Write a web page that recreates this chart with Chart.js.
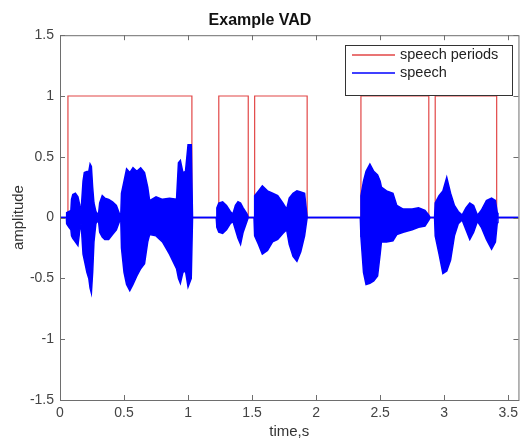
<!DOCTYPE html>
<html>
<head>
<meta charset="utf-8">
<script src="https://cdn.jsdelivr.net/npm/chart.js@4"></script>
<style>
  html, body { margin: 0; padding: 0; background: #fff; }
  #wrap { width: 523px; height: 441px; }
</style>
</head>
<body>
<div id="wrap"><canvas id="vadChart" width="523" height="441"></canvas></div>
<script>
// DATOS
const periodStarts = [0.062, 1.24, 1.52, 2.35, 2.93];
const periodEnds = [1.03, 1.47, 1.93, 2.88, 3.41];
const timeEnd = 3.58;

// envolvente de la señal de voz (tiempo, maximo, minimo)
const speechTime = [
  0, 0.05, 0.052, 0.07, 0.085, 0.09, 0.10, 0.12, 0.14, 0.155, 0.165, 0.18, 0.19,
  0.21, 0.225, 0.235, 0.245, 0.255, 0.265, 0.28, 0.30, 0.31, 0.33, 0.35, 0.38,
  0.41, 0.44, 0.465, 0.475, 0.48, 0.50, 0.52, 0.545, 0.57, 0.60, 0.63, 0.66,
  0.685, 0.70, 0.75, 0.80, 0.855, 0.91, 0.925, 0.94, 0.96, 0.98, 1.00, 1.025, 1.035,
  1.22, 1.225, 1.24, 1.27, 1.30, 1.33, 1.35, 1.37, 1.39, 1.41, 1.43, 1.46, 1.47,
  1.515, 1.52, 1.55, 1.58, 1.62, 1.66, 1.70, 1.74, 1.77, 1.79, 1.82, 1.85, 1.88, 1.91, 1.93,
  2.345, 2.35, 2.37, 2.39, 2.42, 2.45, 2.48, 2.50, 2.51, 2.55, 2.60, 2.63, 2.68,
  2.75, 2.80, 2.85, 2.88, 2.89,
  2.925, 2.93, 2.96, 2.99, 3.02, 3.05, 3.08, 3.11, 3.14, 3.17, 3.20, 3.23, 3.26,
  3.29, 3.33, 3.37, 3.40, 3.415, 3.42, 3.58
];
const speechUpper = [
  0, 0, 0.04, 0.05, 0.06, 0.15, 0.19, 0.20, 0.17, 0.10, 0.06, 0.30, 0.37,
  0.38, 0.38, 0.44, 0.42, 0.25, 0.12, 0.05, 0.02, 0.12, 0.18, 0.16, 0.15,
  0.13, 0.10, 0.03, 0.03, 0.20, 0.30, 0.40, 0.37, 0.41, 0.38, 0.41, 0.37,
  0.25, 0.14, 0.17, 0.15, 0.16, 0.15, 0.45, 0.47, 0.37, 0.38, 0.60, 0.60, 0,
  0, 0.08, 0.12, 0.13, 0.10, 0.05, 0.03, 0.10, 0.13, 0.12, 0.08, 0.03, 0,
  0, 0.18, 0.22, 0.26, 0.22, 0.20, 0.18, 0.12, 0.07, 0.16, 0.20, 0.22, 0.21, 0.20, 0,
  0, 0.18, 0.30, 0.38, 0.44, 0.38, 0.35, 0.30, 0.25, 0.22, 0.20, 0.10, 0.07,
  0.07, 0.08, 0.06, 0.02, 0,
  0, 0.12, 0.18, 0.22, 0.33, 0.20, 0.10, 0.05, 0.02, 0.08, 0.12, 0.10, 0.02,
  0.06, 0.14, 0.16, 0.14, 0.04, 0, 0
];
const speechLower = [
  0, 0, -0.05, -0.08, -0.10, -0.15, -0.17, -0.20, -0.23, -0.10, -0.05, -0.30, -0.35,
  -0.45, -0.50, -0.58, -0.62, -0.45, -0.20, -0.05, -0.02, -0.12, -0.16, -0.18, -0.18,
  -0.14, -0.10, -0.03, -0.03, -0.25, -0.45, -0.55, -0.60, -0.55, -0.48, -0.42, -0.38,
  -0.20, -0.14, -0.15, -0.20, -0.30, -0.42, -0.50, -0.54, -0.45, -0.44, -0.57, -0.50, 0,
  0, -0.08, -0.12, -0.13, -0.10, -0.05, -0.03, -0.10, -0.17, -0.22, -0.12, -0.03, 0,
  0, -0.15, -0.22, -0.30, -0.27, -0.20, -0.18, -0.13, -0.10, -0.22, -0.32, -0.36, -0.28, -0.15, 0,
  0, -0.16, -0.45, -0.55, -0.54, -0.52, -0.48, -0.30, -0.20, -0.20, -0.19, -0.14, -0.12,
  -0.10, -0.08, -0.07, -0.02, 0,
  0, -0.15, -0.30, -0.46, -0.44, -0.35, -0.15, -0.05, -0.02, -0.10, -0.18, -0.12, -0.03,
  -0.08, -0.18, -0.26, -0.20, -0.04, 0, 0
];
const xTicks = [0, 0.5, 1, 1.5, 2, 2.5, 3, 3.5];
const yTicks = [-1.5, -1, -0.5, 0, 0.5, 1, 1.5];

const RED = "rgb(226, 70, 70)";
const BLUE = "rgb(0, 0, 255)";
const AXIS = "#6e6e6e";
const FONT = "'Liberation Sans', Arial, sans-serif";

// SEÑAL ESCALON DE LOS PERIODOS DE VOZ
const periodPoints = () => {
  const pts = [{ x: 0, y: 0 }];
  periodStarts.forEach((start, i) => {
    pts.push({ x: start, y: 0 }, { x: start, y: 1 });
    pts.push({ x: periodEnds[i], y: 1 }, { x: periodEnds[i], y: 0 });
  });
  pts.push({ x: timeEnd, y: 0 });
  return pts;
};

const envelope = (values) =>
  speechTime.map((t, i) => ({ x: t, y: values[i] }));

// PLUGIN: CAJA, MARCAS HACIA DENTRO Y LEYENDA
const matlabBox = {
  id: "matlabBox",
  afterDraw(chart) {
    const { ctx, chartArea: a, scales } = chart;
    ctx.save();
    ctx.strokeStyle = AXIS;
    ctx.lineWidth = 1;
    ctx.strokeRect(a.left + 0.5, a.top + 0.5, a.right - a.left, a.bottom - a.top);
    ctx.beginPath();
    xTicks.forEach((v) => {
      const px = Math.round(scales.x.getPixelForValue(v)) + 0.5;
      ctx.moveTo(px, a.bottom); ctx.lineTo(px, a.bottom - 5);
      ctx.moveTo(px, a.top); ctx.lineTo(px, a.top + 5);
    });
    yTicks.forEach((v) => {
      const py = Math.round(scales.y.getPixelForValue(v)) + 0.5;
      ctx.moveTo(a.left, py); ctx.lineTo(a.left + 5, py);
      ctx.moveTo(a.right, py); ctx.lineTo(a.right - 5, py);
    });
    ctx.stroke();

    // leyenda
    const lx = 345, ly = 45, lw = 167, lh = 50;
    ctx.fillStyle = "#fff";
    ctx.fillRect(lx, ly, lw, lh);
    ctx.strokeStyle = "#333";
    ctx.strokeRect(lx + 0.5, ly + 0.5, lw, lh);
    const items = [
      { label: "speech periods", color: RED, y: 55 },
      { label: "speech", color: BLUE, y: 73 },
    ];
    ctx.font = "14.5px " + FONT;
    ctx.textBaseline = "middle";
    items.forEach((it) => {
      ctx.strokeStyle = it.color;
      ctx.lineWidth = 1.5;
      ctx.beginPath();
      ctx.moveTo(352, it.y);
      ctx.lineTo(395, it.y);
      ctx.stroke();
      ctx.fillStyle = "#222";
      ctx.fillText(it.label, 400, it.y);
    });
    ctx.restore();
  },
};

const canvas = document.getElementById("vadChart");
const vadChart = new Chart(canvas, {
  type: "line",
  data: {
    datasets: [
      {
        label: "speech periods",
        data: periodPoints(),
        borderColor: RED,
        borderWidth: 1.2,
        pointRadius: 0,
        fill: false,
        order: 2,
      },
      {
        label: "speech",
        data: envelope(speechUpper),
        borderColor: BLUE,
        backgroundColor: BLUE,
        borderWidth: 1.5,
        pointRadius: 0,
        fill: "+1",
        order: 1,
      },
      {
        label: "speech-min",
        data: envelope(speechLower),
        borderColor: BLUE,
        borderWidth: 1.5,
        pointRadius: 0,
        fill: false,
        order: 1,
      },
    ],
  },
  options: {
    responsive: false,
    animation: false,
    layout: { padding: { left: 0, right: 3, top: 0, bottom: 0 } },
    plugins: {
      legend: { display: false },
      tooltip: { enabled: false },
      title: {
        display: true,
        text: "Example VAD",
        color: "#111",
        font: { family: FONT, size: 16, weight: "bold" },
        padding: { top: 11, bottom: 5 },
      },
    },
    scales: {
      x: {
        type: "linear",
        min: 0,
        max: timeEnd,
        grid: { display: false, drawTicks: false },
        border: { display: false },
        afterBuildTicks: (s) => { s.ticks = xTicks.map((v) => ({ value: v })); },
        afterFit: (s) => { s.height = 41; },
        ticks: {
          color: "#444",
          padding: 5,
          maxRotation: 0,
          font: { family: FONT, size: 14 },
          callback: (v) => String(v),
        },
        title: {
          display: true,
          text: "time,s",
          color: "#333",
          padding: { top: 0, bottom: 0 },
          font: { family: FONT, size: 15 },
        },
      },
      y: {
        min: -1.5,
        max: 1.5,
        grid: { display: false, drawTicks: false },
        border: { display: false },
        afterBuildTicks: (s) => { s.ticks = yTicks.map((v) => ({ value: v })); },
        afterFit: (s) => { s.width = 60; },
        ticks: {
          color: "#444",
          padding: 6,
          font: { family: FONT, size: 14 },
          callback: (v) => String(v),
        },
        title: {
          display: true,
          text: "amplitude",
          color: "#333",
          padding: { top: 10, bottom: 0 },
          font: { family: FONT, size: 15 },
        },
      },
    },
  },
  plugins: [matlabBox],
});
</script>
</body>
</html>
